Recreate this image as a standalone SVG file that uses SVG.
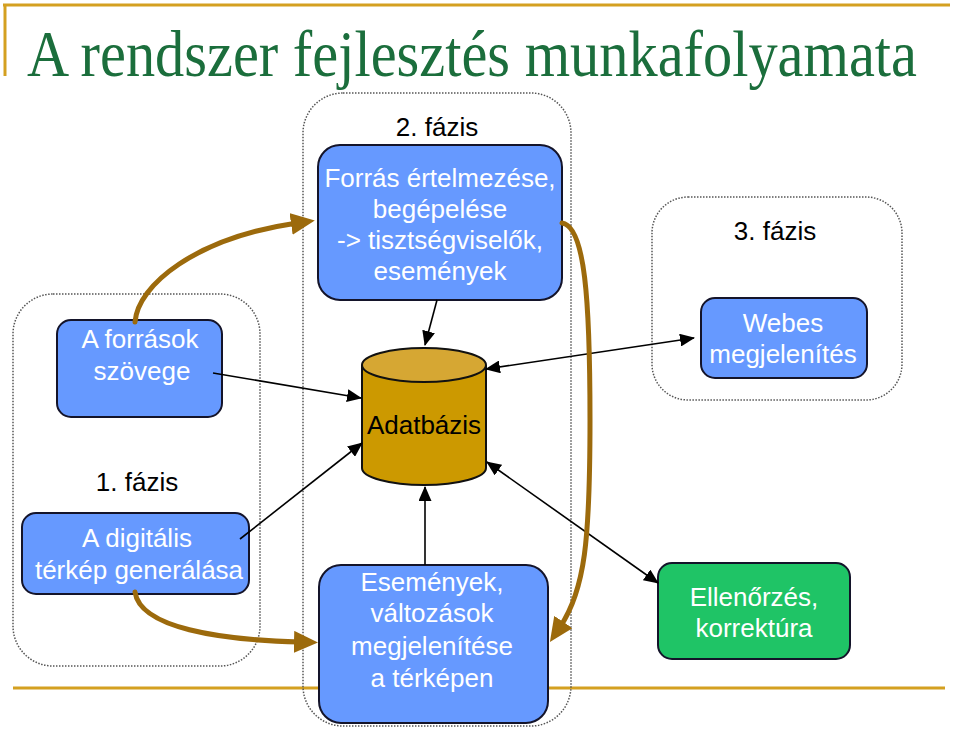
<svg xmlns="http://www.w3.org/2000/svg" width="959" height="732" viewBox="0 0 959 732">
<style>
.phase{fill:none;stroke:#555;stroke-width:1.5;stroke-dasharray:1.5 1.5}
.node{fill:#6699ff;stroke:#14142a;stroke-width:2}
.green{fill:#1fc466;stroke:#14142a;stroke-width:2}
.wt{font-family:"Liberation Sans",Arial,sans-serif;font-size:26px;fill:#ffffff;text-anchor:middle}
.bt{font-family:"Liberation Sans",Arial,sans-serif;font-size:26px;fill:#000000;text-anchor:middle}
.blk{fill:none;stroke:#000;stroke-width:1.6}
.gold{fill:none;stroke:#9c6a0c;stroke-width:5;stroke-linecap:round}
.rule{stroke:#d4a020;stroke-width:3}
</style>
<defs>
<marker id="ab" markerUnits="userSpaceOnUse" markerWidth="15" markerHeight="13" refX="14" refY="6.5" orient="auto-start-reverse"><path d="M0,0 L15,6.5 L0,13 z" fill="#000"/></marker>
<marker id="ag" markerUnits="userSpaceOnUse" markerWidth="24" markerHeight="22" refX="6" refY="11" orient="auto"><path d="M0,0 L24,11 L0,22 z" fill="#9c6a0c"/></marker>
</defs>
<rect width="959" height="732" fill="#ffffff"/>
<g id="decor">
<line class="rule" x1="3" y1="5" x2="950" y2="5"/>
<line class="rule" x1="5" y1="4" x2="5" y2="76"/>
<line class="rule" x1="13" y1="688" x2="945" y2="688"/>
</g>
<text id="title" transform="translate(27,76) scale(1,1.12)" x="0" y="0" font-family="'Liberation Serif','Times New Roman',serif" font-size="58" fill="#1b6e3c" textLength="890" lengthAdjust="spacingAndGlyphs">A rendszer fejlesztés munkafolyamata</text>
<g id="phase1"><rect class="phase" x="13" y="294" width="247" height="372" rx="40"/><text class="bt" x="137" y="491">1. fázis</text></g>
<g id="phase2"><rect class="phase" x="303" y="93" width="268" height="633" rx="40"/><text class="bt" x="437" y="136">2. fázis</text></g>
<g id="phase3"><rect class="phase" x="652" y="197" width="250" height="203" rx="36"/><text class="bt" x="775" y="240">3. fázis</text></g>
<g id="forras"><rect class="node" x="318" y="145" width="244" height="155" rx="22"/>
<text class="wt" x="440" y="187">Forrás értelmezése,</text><text class="wt" x="440" y="218">begépelése</text><text class="wt" x="440" y="249">-&gt; tisztségviselők,</text><text class="wt" x="440" y="280">események</text></g>
<g id="forrasok"><rect class="node" x="57" y="320" width="165" height="97" rx="14"/>
<text class="wt" x="140" y="348">A források</text><text class="wt" x="142" y="380">szövege</text></g>
<g id="digitalis"><rect class="node" x="22" y="513" width="227" height="81" rx="14"/>
<text class="wt" x="137" y="547">A digitális</text><text class="wt" x="139" y="579">térkép generálása</text></g>
<g id="webes"><rect class="node" x="701" y="298" width="166" height="80" rx="14"/>
<text class="wt" x="783" y="332">Webes</text><text class="wt" x="783" y="363">megjelenítés</text></g>
<g id="adatbazis">
<path d="M362,365 L362,468 A62,17 0 0 0 486,468 L486,365" fill="#cc9900" stroke="#111" stroke-width="2"/>
<ellipse cx="424" cy="365" rx="62" ry="17" fill="#d6a733" stroke="#111" stroke-width="2"/>
<text class="bt" x="424" y="434">Adatbázis</text></g>
<g id="esemenyek"><rect class="node" x="319" y="565" width="229" height="158" rx="22"/>
<text class="wt" x="432" y="591">Események,</text><text class="wt" x="432" y="622">változások</text><text class="wt" x="432" y="655">megjelenítése</text><text class="wt" x="432" y="687">a térképen</text></g>
<g id="ellenorzes"><rect class="green" x="658" y="563" width="192" height="96" rx="14"/>
<text class="wt" x="754" y="606">Ellenőrzés,</text><text class="wt" x="754" y="637">korrektúra</text></g>
<g id="connectors">
<line class="blk" x1="437" y1="300" x2="425" y2="345" marker-end="url(#ab)"/>
<line class="blk" x1="213" y1="373" x2="361" y2="398" marker-end="url(#ab)"/>
<line class="blk" x1="240" y1="539" x2="362" y2="443" marker-end="url(#ab)"/>
<line class="blk" x1="486" y1="369" x2="694" y2="338" marker-start="url(#ab)" marker-end="url(#ab)"/>
<line class="blk" x1="487" y1="462" x2="658" y2="583" marker-start="url(#ab)" marker-end="url(#ab)"/>
<line class="blk" x1="425" y1="565" x2="425" y2="487" marker-end="url(#ab)"/>
<path class="gold" d="M135,322 C138,285 195,238 297,223" marker-end="url(#ag)"/>
<path class="gold" d="M562,223 C585,226 590,300 590,420 C590,540 585,590 560,627" marker-end="url(#ag)"/>
<path class="gold" d="M135,592 C140,628 220,640 300,642" marker-end="url(#ag)"/>
</g>
</svg>
